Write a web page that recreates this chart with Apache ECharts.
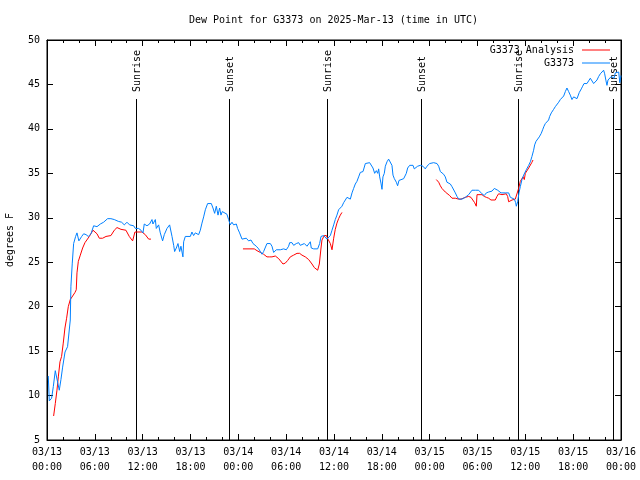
<!DOCTYPE html>
<html>
<head>
<meta charset="utf-8">
<script src="https://cdn.jsdelivr.net/npm/echarts@6/dist/echarts.min.js"></script>
<style>
html,body{margin:0;padding:0;background:#fff;}
#chart{width:640px;height:480px;}
</style>
</head>
<body>
<div id="chart"></div>
<script>
// Hours since 03/13 00:00 UTC
const xTickLabels = ['03/13\n00:00','03/13\n06:00','03/13\n12:00','03/13\n18:00','03/14\n00:00','03/14\n06:00','03/14\n12:00','03/14\n18:00','03/15\n00:00','03/15\n06:00','03/15\n12:00','03/15\n18:00','03/16\n00:00'];

const sunLabels = ['Sunrise','Sunset','Sunrise','Sunset','Sunrise','Sunset'];
const sunHours  = [11.11, 22.78, 35.07, 46.91, 59.03, 70.95];

const blueHours = [0.16,0.29,0.58,0.79,1.04,1.25,1.54,1.75,1.96,2.26,2.58,2.83,2.92,3.0,3.17,3.34,3.59,3.76,4.0,4.35,4.6,4.9,5.18,5.52,5.85,6.27,6.69,7.1,7.6,8.02,8.44,8.94,9.36,9.7,10.03,10.36,10.87,11.08,11.49,11.79,12.04,12.2,12.54,12.87,13.17,13.29,13.46,13.59,13.71,14.0,14.21,14.5,14.71,15.05,15.38,15.55,15.68,15.89,16.01,16.22,16.43,16.64,16.8,17.05,17.14,17.35,17.98,18.18,18.39,18.6,18.81,19.02,19.23,19.44,19.65,19.86,20.15,20.61,20.82,21.03,21.24,21.45,21.65,21.82,21.99,22.24,22.57,22.78,22.99,23.2,23.41,23.75,23.91,24.16,24.46,24.67,25.0,25.29,25.59,25.84,26.0,26.25,26.55,26.76,26.97,27.17,27.38,27.59,28.01,28.22,28.43,28.76,29.27,29.68,30.02,30.31,30.44,30.73,30.94,31.27,31.57,31.77,31.98,32.28,32.61,32.82,33.03,33.15,33.45,33.66,33.95,34.2,34.37,34.7,35.12,35.54,35.75,35.96,36.16,36.37,36.58,36.79,37.0,37.21,37.42,37.63,37.84,38.05,38.26,38.46,38.67,38.88,39.09,39.3,39.64,39.93,40.14,40.47,40.64,40.89,41.1,41.31,41.48,41.6,41.73,41.89,42.02,42.14,42.31,42.44,42.65,42.85,43.06,43.27,43.4,43.57,43.82,43.98,44.15,44.4,44.74,45.07,45.24,45.49,45.66,45.91,46.07,46.2,46.49,46.83,47.16,47.45,47.66,48.0,48.21,48.5,48.71,48.92,49.13,49.34,49.54,49.75,49.96,50.17,50.38,50.59,50.8,51.01,51.22,51.43,51.64,52.05,52.26,52.47,52.68,52.89,53.1,53.31,53.52,53.73,53.94,54.14,54.35,54.56,54.69,54.85,55.11,55.4,55.61,55.82,56.11,56.36,56.53,56.78,56.95,57.2,57.49,57.7,57.91,58.12,58.33,58.62,58.79,58.87,59.04,59.2,59.37,59.58,59.79,60.12,60.42,60.63,60.83,61.04,61.17,61.34,61.59,61.75,62.0,62.17,62.34,62.51,62.76,62.92,63.05,63.26,63.55,63.76,63.97,64.18,64.39,64.6,64.81,65.02,65.22,65.43,65.64,65.85,66.06,66.27,66.48,66.6,66.77,67.02,67.19,67.36,67.73,67.94,68.15,68.36,68.57,68.78,68.99,69.2,69.41,69.62,69.82,69.95,70.12,70.24,70.37,70.53,70.79,70.95,71.12,71.29,71.5,71.71,71.85,72.0];
const blueValues = [12.2,9.4,9.7,11.0,12.8,12.6,10.6,11.8,13.2,14.9,15.5,15.5,18.5,22.3,24.9,27.1,27.9,28.3,27.4,27.9,28.2,28.1,27.9,28.2,29.1,29.0,29.3,29.5,29.9,29.9,29.8,29.6,29.5,29.2,29.5,29.2,29.1,28.8,28.8,28.6,28.3,29.3,29.1,29.3,29.8,29.3,29.1,29.8,28.8,29.2,28.3,27.4,28.1,28.8,29.2,29.1,27.9,26.9,26.2,26.6,27.1,26.2,26.8,25.6,27.3,27.9,27.9,28.4,28.0,28.3,28.4,28.1,28.6,29.4,30.1,30.9,31.6,31.6,31.1,30.5,31.3,30.3,31.1,30.3,30.7,30.5,30.4,29.8,29.2,29.5,29.2,29.3,28.8,28.3,27.6,27.4,27.7,27.4,27.5,27.1,27.1,26.8,26.5,26.4,25.9,26.2,26.4,27.1,27.1,26.8,26.1,26.4,26.4,26.5,26.4,26.8,27.2,27.2,26.9,27.1,27.2,26.9,27.1,27.1,26.8,26.9,27.3,26.6,26.5,26.6,26.5,27.1,27.9,28.0,27.6,28.0,28.6,29.2,29.8,30.3,30.9,31.1,31.3,31.7,32.0,32.3,32.5,32.1,32.8,33.3,33.8,34.1,34.6,35.1,35.2,36.1,36.1,36.2,36.1,35.6,35.0,35.3,35.0,35.5,34.6,33.9,33.2,34.6,35.0,35.8,36.3,36.6,36.7,35.9,34.8,34.4,34.0,33.6,34.2,34.3,34.4,35.0,35.6,35.9,36.1,35.9,35.5,35.4,35.8,35.9,35.8,35.5,35.8,36.1,35.9,36.2,36.1,36.1,35.8,35.2,35.0,34.9,34.6,34.0,33.9,33.8,33.5,33.3,32.8,32.4,32.1,32.1,32.2,32.3,32.4,32.6,32.8,33.1,33.1,33.1,33.2,33.1,32.9,32.7,32.8,32.5,32.8,32.9,33.1,33.0,33.3,33.2,33.1,33.2,32.8,32.6,32.8,32.7,32.8,32.3,32.1,32.1,31.7,31.3,31.8,32.8,33.5,34.3,34.8,35.4,35.9,36.3,36.9,37.6,38.2,38.6,38.8,39.1,39.5,39.9,40.3,40.6,40.6,41.0,41.4,41.8,42.2,42.5,42.7,43.0,43.3,43.4,43.7,44.2,44.6,44.2,43.8,43.3,43.6,43.6,43.4,43.6,44.1,44.5,44.8,45.1,45.1,45.4,45.7,45.6,45.1,45.3,45.5,45.9,46.2,46.4,46.6,46.2,45.4,44.9,45.5,45.7,45.9,46.1,45.7,46.3,46.1,46.4,45.2,46.0];

// null values mark gaps in the analysis series
const redHours = [0.83,1.04,1.25,1.42,1.63,1.83,2.04,2.25,2.46,2.67,2.92,3.22,3.51,3.67,3.76,3.93,4.18,4.47,4.76,5.01,5.31,5.51,5.77,5.93,6.27,6.56,6.98,7.4,8.02,8.44,8.78,9.28,9.9,10.32,10.74,11.03,11.91,12.33,12.75,13.04,
  18.0,
  24.58,26.0,26.34,26.76,27.17,27.59,27.93,28.22,28.64,29.06,29.27,29.6,29.89,30.19,30.52,30.94,31.36,31.69,31.98,32.4,32.82,33.24,33.53,33.95,34.16,34.37,34.49,34.78,35.04,35.24,35.54,35.75,35.96,36.16,36.37,36.58,36.79,37.0,
  42.0,
  48.83,49.13,49.34,49.54,49.75,49.96,50.17,50.51,50.8,51.22,51.64,51.93,52.18,52.47,52.68,52.89,53.18,53.43,53.64,53.85,53.94,54.14,54.56,54.85,55.11,55.4,55.69,55.94,56.23,56.44,56.65,56.86,57.07,57.28,57.61,57.78,57.91,58.12,58.33,58.53,58.74,58.95,59.16,59.37,59.58,59.71,59.87,60.0,60.21,60.42,60.63,60.8,60.96];
const redValues = [7.7,9.1,10.6,12.1,13.8,14.4,15.9,17.6,18.7,20.0,20.8,21.2,21.6,21.9,23.8,25.1,25.8,26.6,27.2,27.3,27.9,28.2,28.6,28.6,28.2,27.7,27.7,27.9,28.0,28.6,28.9,28.7,28.6,27.9,27.4,28.4,28.4,28.1,27.6,27.6,
  null,
  26.5,26.5,26.3,26.1,25.9,25.6,25.6,25.6,25.7,25.4,25.2,24.8,24.9,25.2,25.6,25.8,26.0,26.0,25.8,25.6,25.3,24.8,24.4,24.1,24.8,26.6,27.5,28.0,28.0,27.6,27.1,26.4,27.7,28.7,29.4,29.9,30.3,30.6,
  null,
  34.3,34.0,33.6,33.3,33.1,32.9,32.8,32.5,32.2,32.2,32.1,32.1,32.2,32.3,32.5,32.4,32.3,32.1,31.7,31.3,32.6,32.7,32.6,32.4,32.3,32.2,32.0,31.9,32.0,32.4,32.7,32.8,32.6,32.8,32.7,32.4,31.8,31.7,32.0,31.8,32.1,32.3,33.3,34.1,33.9,34.6,34.3,35.0,35.2,35.6,35.8,36.2,36.5];

const FONT = '"DejaVu Sans Mono", "Liberation Mono", monospace';
const chart = echarts.init(document.getElementById('chart'), null, {renderer: 'canvas'});

function axisCommon(extra) {
  return Object.assign({
    type: 'value',
    axisLine: {show: true, onZero: false, lineStyle: {color: '#000', width: 1}},
    axisTick: {show: true, inside: true, length: 6, lineStyle: {color: '#000'}},
    splitLine: {show: false}
  }, extra);
}

const option = {
  animation: false,
  backgroundColor: '#fff',
  title: {
    text: 'Dew Point for G3373 on 2025-Mar-13 (time in UTC)',
    left: 189, top: 15, padding: 0,
    textStyle: {fontFamily: FONT, fontSize: 10, fontWeight: 'normal', color: '#000'}
  },
  legend: {
    data: ['G3373 Analysis', 'G3373'],
    orient: 'vertical',
    right: 30, top: 44,
    align: 'right',
    padding: 0,
    itemGap: 1,
    itemWidth: 28, itemHeight: 1,
    icon: 'rect',
    textStyle: {fontFamily: FONT, fontSize: 10, color: '#000', lineHeight: 12, padding: [0, 3, 0, 0]}
  },
  grid: {left: 47, right: 19, top: 40, bottom: 40, containLabel: false, outerBoundsMode: 'none',
         show: true, borderColor: '#000', borderWidth: 1, backgroundColor: 'transparent'},
  xAxis: [
    axisCommon({
      min: 0, max: 72, interval: 6,
      minorTick: {show: true, splitNumber: 3, length: 3, lineStyle: {color: '#000'}},
      axisLabel: {
        fontFamily: FONT, fontSize: 10, color: '#000', lineHeight: 15, margin: 5,
        formatter: v => xTickLabels[Math.round(v / 6)]
      }
    }),
    axisCommon({
      position: 'top', min: 0, max: 72, interval: 6,
      minorTick: {show: true, splitNumber: 3, length: 3, lineStyle: {color: '#000'}},
      axisLabel: {show: false}
    })
  ],
  yAxis: [
    axisCommon({
      min: 5, max: 50, interval: 5,
      name: 'degrees F', nameLocation: 'middle', nameGap: 32,
      nameTextStyle: {fontFamily: FONT, fontSize: 10, color: '#000'},
      axisLabel: {fontFamily: FONT, fontSize: 10, color: '#000', margin: 7}
    }),
    axisCommon({
      position: 'right', min: 5, max: 50, interval: 5,
      axisLabel: {show: false}
    })
  ],
  series: [
    {
      name: 'G3373 Analysis', type: 'line',
      data: redHours.map((h, i) => [h, redValues[i]]),
      showSymbol: false, symbol: 'none', connectNulls: false,
      lineStyle: {color: '#ff0000', width: 1}, itemStyle: {color: '#ff0000'},
      z: 3
    },
    {
      name: 'G3373', type: 'line',
      data: blueHours.map((h, i) => [h, blueValues[i]]),
      showSymbol: false, symbol: 'none',
      lineStyle: {color: '#0080ff', width: 1}, itemStyle: {color: '#0080ff'},
      z: 4
    },
    {
      name: 'sun', type: 'custom',
      data: sunHours.map((h, i) => [h, i]),
      encode: {x: 0},
      z: 2,
      renderItem: function (params, api) {
        const x = Math.round(api.coord([api.value(0), 5])[0]) + 0.5;
        const yb = api.coord([0, 5])[1];
        const yt = params.coordSys.y + 59;
        return {
          type: 'group',
          children: [
            {type: 'line', shape: {x1: x, y1: yt, x2: x, y2: yb}, style: {stroke: '#000', lineWidth: 1}},
            {type: 'text', x: x + 1, y: yt - 7, rotation: Math.PI / 2,
             style: {text: sunLabels[api.value(1)], font: '10px ' + FONT, fill: '#000', align: 'left', verticalAlign: 'middle'}}
          ]
        };
      }
    }
  ]
};
chart.setOption(option);
</script>
</body>
</html>
